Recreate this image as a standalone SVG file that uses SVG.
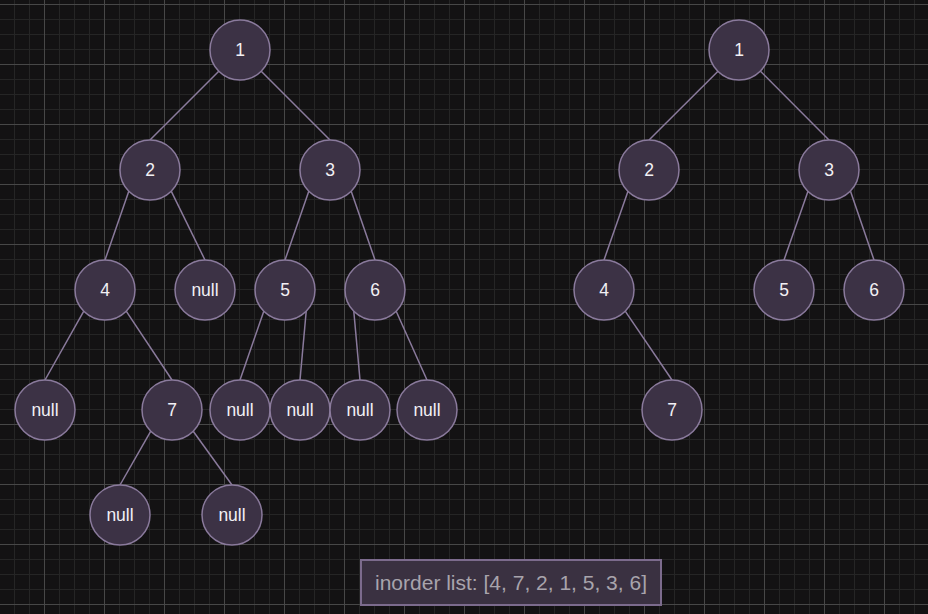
<svg xmlns="http://www.w3.org/2000/svg" width="928" height="614" viewBox="0 0 928 614">
<defs>
<pattern id="minor" patternUnits="userSpaceOnUse" x="14" y="4" width="15" height="15">
<path d="M0.5 0 V15 M0 0.5 H15" stroke="#252525" stroke-width="1" fill="none"/>
</pattern>
<pattern id="major" patternUnits="userSpaceOnUse" x="44" y="4" width="60" height="60">
<path d="M0.5 0 V60 M0 0.5 H60" stroke="#474747" stroke-width="1" fill="none"/>
</pattern>
</defs>
<style>
.n circle{fill:#3c3245;stroke:#8a7a9c;stroke-width:1.5}
.n text{fill:#f2f0f4;font-family:"Liberation Sans",Arial,sans-serif;font-size:17.5px;text-anchor:middle}
#edges line{stroke:#8a7a9c;stroke-width:1.5}
.lbl{fill:#a8a4ac;font-family:"Liberation Sans",Arial,sans-serif;font-size:21px;text-anchor:middle}
</style>
<rect width="928" height="614" fill="#131213"/>
<rect width="928" height="614" fill="url(#minor)"/>
<rect width="928" height="614" fill="url(#major)"/>
<g id="edges">
<line x1="218.8" y1="71.2" x2="150" y2="140"/>
<line x1="261.2" y1="71.2" x2="330" y2="140"/>
<line x1="128.8" y1="191.2" x2="105" y2="260"/>
<line x1="171.2" y1="191.2" x2="205" y2="260"/>
<line x1="308.8" y1="191.2" x2="285" y2="260"/>
<line x1="351.2" y1="191.2" x2="375" y2="260"/>
<line x1="83.8" y1="311.2" x2="45" y2="380"/>
<line x1="126.2" y1="311.2" x2="172" y2="380"/>
<line x1="263.8" y1="311.2" x2="240" y2="380"/>
<line x1="306.2" y1="311.2" x2="300" y2="380"/>
<line x1="353.8" y1="311.2" x2="360" y2="380"/>
<line x1="396.2" y1="311.2" x2="427" y2="380"/>
<line x1="150.8" y1="431.2" x2="120" y2="485"/>
<line x1="193.2" y1="431.2" x2="232" y2="485"/>
<line x1="718" y1="71.2" x2="649" y2="140"/>
<line x1="760.5" y1="71.2" x2="829" y2="140"/>
<line x1="628" y1="191.2" x2="604" y2="260"/>
<line x1="808" y1="191.2" x2="784" y2="260"/>
<line x1="850.5" y1="191.2" x2="874" y2="260"/>
<line x1="625.2" y1="311.2" x2="672" y2="380"/>
</g>
<g id="L1" class="n"><circle cx="240" cy="50" r="30"/><text x="240" y="56.2">1</text></g>
<g id="L2" class="n"><circle cx="150" cy="170" r="30"/><text x="150" y="176.2">2</text></g>
<g id="L3" class="n"><circle cx="330" cy="170" r="30"/><text x="330" y="176.2">3</text></g>
<g id="L4" class="n"><circle cx="105" cy="290" r="30"/><text x="105" y="296.2">4</text></g>
<g id="Lnull2R" class="n"><circle cx="205" cy="290" r="30"/><text x="205" y="296.2">null</text></g>
<g id="L5" class="n"><circle cx="285" cy="290" r="30"/><text x="285" y="296.2">5</text></g>
<g id="L6" class="n"><circle cx="375" cy="290" r="30"/><text x="375" y="296.2">6</text></g>
<g id="Lnull4L" class="n"><circle cx="45" cy="410" r="30"/><text x="45" y="416.2">null</text></g>
<g id="L7" class="n"><circle cx="172" cy="410" r="30"/><text x="172" y="416.2">7</text></g>
<g id="Lnull5L" class="n"><circle cx="240" cy="410" r="30"/><text x="240" y="416.2">null</text></g>
<g id="Lnull5R" class="n"><circle cx="300" cy="410" r="30"/><text x="300" y="416.2">null</text></g>
<g id="Lnull6L" class="n"><circle cx="360" cy="410" r="30"/><text x="360" y="416.2">null</text></g>
<g id="Lnull6R" class="n"><circle cx="427" cy="410" r="30"/><text x="427" y="416.2">null</text></g>
<g id="Lnull7L" class="n"><circle cx="120" cy="515" r="30"/><text x="120" y="521.2">null</text></g>
<g id="Lnull7R" class="n"><circle cx="232" cy="515" r="30"/><text x="232" y="521.2">null</text></g>
<g id="R1" class="n"><circle cx="739" cy="50" r="30"/><text x="739" y="56.2">1</text></g>
<g id="R2" class="n"><circle cx="649" cy="170" r="30"/><text x="649" y="176.2">2</text></g>
<g id="R3" class="n"><circle cx="829" cy="170" r="30"/><text x="829" y="176.2">3</text></g>
<g id="R4" class="n"><circle cx="604" cy="290" r="30"/><text x="604" y="296.2">4</text></g>
<g id="R5" class="n"><circle cx="784" cy="290" r="30"/><text x="784" y="296.2">5</text></g>
<g id="R6" class="n"><circle cx="874" cy="290" r="30"/><text x="874" y="296.2">6</text></g>
<g id="R7" class="n"><circle cx="672" cy="410" r="30"/><text x="672" y="416.2">7</text></g>
<g id="inorder">
<rect x="361" y="560" width="300" height="45" fill="#3a3141" stroke="#7c6b8d" stroke-width="2"/>
<text class="lbl" x="511" y="590">inorder list: [4, 7, 2, 1, 5, 3, 6]</text>
</g>
</svg>
